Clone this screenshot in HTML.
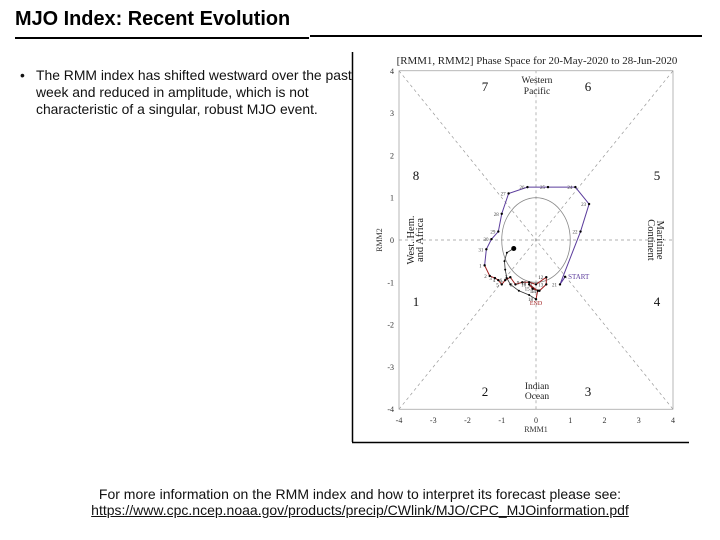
<!DOCTYPE html>
<html><head><meta charset="utf-8"><style>
body{margin:0;width:720px;height:540px;background:#fff;position:relative;font-family:"Liberation Sans",sans-serif;overflow:hidden}
.abs{position:absolute}
</style></head><body>
<div class="abs" style="left:15px;top:8px;font-size:19.9px;font-weight:bold;color:#000">MJO Index: Recent Evolution</div>
<div class="abs" style="left:15px;top:37px;width:294px;height:2px;background:#000"></div>
<div class="abs" style="left:310px;top:35px;width:392px;height:2px;background:#000"></div>
<div class="abs" style="left:20px;top:67px;width:345px;font-size:13.9px;line-height:17px;color:#111">
<span style="position:absolute;left:0">•</span><div style="padding-left:16px">The RMM index has shifted westward over the past week and reduced in amplitude, which is not characteristic of a singular, robust MJO event.</div></div>
<svg class="abs" style="left:0;top:0" width="720" height="540" font-family="Liberation Serif, serif">
<line x1="352.5" y1="52" x2="352.5" y2="442" stroke="#000" stroke-width="1.5"/>
<line x1="352" y1="442.5" x2="689" y2="442.5" stroke="#000" stroke-width="1.5"/>
<g id="g"></g>
</svg>
<div class="abs" style="left:0;width:720px;top:486px;text-align:center;font-size:14px;color:#111">For more information on the RMM index and how to interpret its forecast please see:</div>
<div class="abs" style="left:0;width:720px;top:502px;text-align:center;font-size:14px;color:#111;text-decoration:underline">https://www.cpc.ncep.noaa.gov/products/precip/CWlink/MJO/CPC_MJOinformation.pdf</div>
<script>
const xTicks=[-4,-3,-2,-1,0,1,2,3,4];
const yTicks=[-4,-3,-2,-1,0,1,2,3,4];
const obsLabels=["START","21","22","23","24","25","26","27","28","29","30","31","1","2","3","4","5","6","7","8","9","10","11","12","13","14","15","16","17","18"];
const obsX=[0.85,0.7,1.3,1.55,1.15,0.35,-0.25,-0.8,-1.0,-1.1,-1.3,-1.45,-1.5,-1.35,-1.2,-1.1,-1.0,-0.9,-0.75,-0.6,-0.4,-0.2,0.0,0.3,0.3,0.1,-0.1,-0.2,0.05,0.0];
const obsY=[-0.87,-1.05,0.2,0.85,1.25,1.25,1.25,1.1,0.62,0.2,0.02,-0.22,-0.6,-0.85,-0.9,-0.95,-1.05,-0.95,-0.88,-1.05,-1.0,-1.0,-1.05,-0.88,-1.05,-1.2,-1.15,-1.05,-1.2,-1.4];
const fcX=[0.0,-0.2,-0.5,-0.75,-0.85,-0.9,-0.92,-0.85,-0.65];
const fcY=[-1.4,-1.3,-1.2,-1.05,-0.9,-0.7,-0.5,-0.3,-0.2];
const X=v=>536+v*34.25, Y=v=>240-v*42.3;
const NS="http://www.w3.org/2000/svg",g=document.getElementById('g');
function mk(t,a,txt){const e=document.createElementNS(NS,t);for(const k in a)e.setAttribute(k,a[k]);if(txt!=null)e.textContent=txt;g.appendChild(e);return e;}
let e=mk('rect',{x:X(-4),y:Y(4),width:X(4)-X(-4),height:Y(-4)-Y(4),fill:'none',stroke:'#888','stroke-width':0.6});

const dash={stroke:'#999','stroke-width':0.7,'stroke-dasharray':'3,3'};
[[-4,-4,4,4],[-4,4,4,-4],[0,-4,0,4],[-4,0,4,0]].forEach(l=>{e=mk('line',Object.assign({x1:X(l[0]),y1:Y(l[1]),x2:X(l[2]),y2:Y(l[3])},dash));});
e=mk('ellipse',{cx:X(0),cy:Y(0),rx:34.25,ry:42.3,fill:'none',stroke:'#888','stroke-width':0.8});

xTicks.forEach(v=>{e=mk('text',{x:X(v),y:Y(-4)+14,'font-size':8,'text-anchor':'middle',fill:'#333'},v);});
yTicks.forEach(v=>{e=mk('text',{x:X(-4)-5,y:Y(v)+3,'font-size':8,'text-anchor':'end',fill:'#333'},v);});
e=mk('text',{x:536,y:432,'font-size':8,'text-anchor':'middle',fill:'#333'},'RMM1');
e=mk('text',{x:0,y:0,'font-size':8,'text-anchor':'middle',fill:'#333',transform:'translate(382,240) rotate(-90)'},'RMM2');
e=mk('text',{x:537,y:64,'font-size':10.9,'text-anchor':'middle',fill:'#222'},'[RMM1, RMM2] Phase Space for 20-May-2020 to 28-Jun-2020');
[['7',485,91],['6',588,91],['8',416,180],['5',657,180],['1',416,306],['4',657,306],['2',485,396],['3',588,396]].forEach(p=>{e=mk('text',{x:p[1],y:p[2],'font-size':13,'text-anchor':'middle',fill:'#111'},p[0]);});
[['Western',537,83],['Pacific',537,94],['Indian',537,389],['Ocean',537,399]].forEach(p=>{e=mk('text',{x:p[1],y:p[2],'font-size':9.5,'text-anchor':'middle',fill:'#222'},p[0]);});
e=mk('text',{x:0,y:0,'font-size':10.5,'text-anchor':'middle',fill:'#222',transform:'translate(414,240) rotate(-90)'},'West. Hem.');
e=mk('text',{x:0,y:0,'font-size':10.5,'text-anchor':'middle',fill:'#222',transform:'translate(423,240) rotate(-90)'},'and Africa');
e=mk('text',{x:0,y:0,'font-size':10.5,'text-anchor':'middle',fill:'#222',transform:'translate(657,240) rotate(90)'},'Maritime');
e=mk('text',{x:0,y:0,'font-size':10.5,'text-anchor':'middle',fill:'#222',transform:'translate(648,240) rotate(90)'},'Continent');
const split=12;
e=mk('polyline',{points:obsX.slice(0,split+1).map((v,i)=>X(v)+','+Y(obsY[i])).join(' '),fill:'none',stroke:'#5b3c9c','stroke-width':1});

e=mk('polyline',{points:obsX.slice(split).map((v,i)=>X(v)+','+Y(obsY[i+split])).join(' '),fill:'none',stroke:'#a02020','stroke-width':1});

e=mk('polyline',{points:fcX.map((v,i)=>X(v)+','+Y(fcY[i])).join(' '),fill:'none',stroke:'#333','stroke-width':0.8});

obsX.forEach((v,i)=>{e=mk('circle',{cx:X(v),cy:Y(obsY[i]),r:1.2,fill:'#000'});
 const c=obsLabels[i]==='START'?'#5b3c9c':(i>=split?'#333':'#444');
 e=mk('text',{x:X(v)+(obsLabels[i]==='START'?3:-3),y:Y(obsY[i])+2,'font-size':obsLabels[i]==='START'?7:5,'text-anchor':obsLabels[i]==='START'?'start':'end',fill:c},obsLabels[i]);});
e=mk('text',{x:X(0),y:Y(-1.4)+6,'font-size':6,'text-anchor':'middle',fill:'#a02020'},'END');
fcX.forEach((v,i)=>{e=mk('circle',{cx:X(v),cy:Y(fcY[i]),r:i===fcX.length-1?2.5:1,fill:'#000'});});
</script>
</body></html>
